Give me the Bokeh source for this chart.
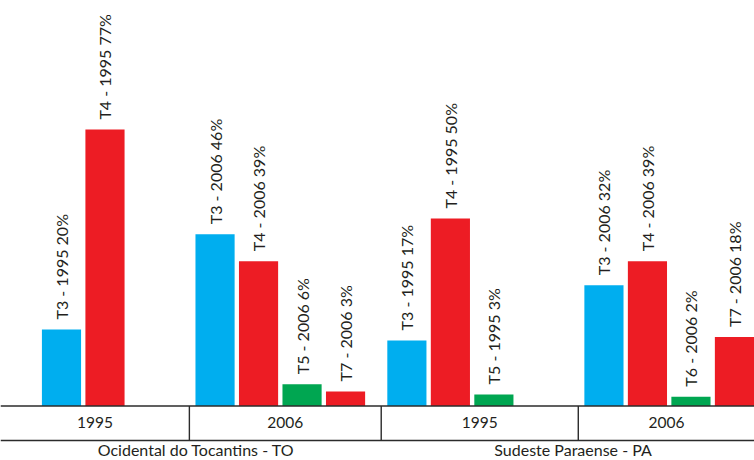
import math
from bokeh.plotting import figure
from bokeh.models import Range1d, Span, ColumnDataSource
from bokeh.core.properties import value
from bokeh.embed import file_html
from bokeh.resources import INLINE

# ---- data ----
region = ["Ocidental do Tocantins - TO"] * 6 + ["Sudeste Paraense - PA"] * 7
year = ["1995", "1995", "2006", "2006", "2006", "2006",
        "1995", "1995", "1995", "2006", "2006", "2006", "2006"]
typology = ["T3", "T4", "T3", "T4", "T5", "T7",
            "T3", "T4", "T5", "T3", "T4", "T6", "T7"]
pct_labels = [20, 77, 46, 39, 6, 3, 17, 50, 3, 32, 39, 2, 18]
# bar lengths as drawn in the picture (in % units)
bar_heights = [20.4, 73.7, 45.8, 38.6, 5.8, 3.9, 17.5, 50.0, 3.1, 32.2, 38.6, 2.5, 18.4]

type_colors = {"T3": "#00AEEF", "T4": "#ED1C24", "T5": "#00A651",
               "T6": "#00A651", "T7": "#ED1C24"}

# ---- layout (categorical-style synthetic coordinates) ----
FACTOR_PAD, SUBGROUP_PAD, GROUP_PAD = 0.0, 1.53, 0.41
xs, groups = [], []
pos, prev = 0.0, None
for r, y in zip(region, year):
    if prev is not None:
        if r != prev[0]:
            pos += GROUP_PAD
        elif y != prev[1]:
            pos += SUBGROUP_PAD
        else:
            pos += FACTOR_PAD
    if prev != (r, y):
        groups.append([r, y, pos, None])
    xs.append(pos + 0.5)
    pos += 1
    groups[-1][3] = pos
    prev = (r, y)

X0, X1 = -0.902, 16.431
Y0, Y1 = -14.53, 108.13
FONT = value("Lato")
TXT = "#231F20"
LINE = "#2b2b2b"

p = figure(width=754, height=460, x_range=Range1d(X0, X1), y_range=Range1d(Y0, Y1),
           toolbar_location=None, output_backend="svg",
           x_axis_location=None, y_axis_location=None,
           min_border=0, min_border_left=0, min_border_right=0,
           min_border_top=0, min_border_bottom=0)
p.grid.visible = False
p.outline_line_color = None
p.background_fill_color = "white"
p.border_fill_color = "white"

labels = [f"{t} - {y} {v}%" for t, y, v in zip(typology, year, pct_labels)]
src = ColumnDataSource(dict(x=xs, top=bar_heights, color=[type_colors[t] for t in typology],
                            label=labels))
p.vbar(x="x", top="top", bottom=0, width=0.9, fill_color="color", line_color=None, source=src)
p.text(x="x", y="top", text="label", source=src, angle=math.pi / 2,
       text_align="left", text_baseline="middle", y_offset=-10,
       text_font=FONT, text_font_size="16px", text_color=TXT)

# axis box
BOTTOM = -9.2
p.add_layout(Span(location=0, dimension="width", line_color=LINE, line_width=1.4))
p.add_layout(Span(location=BOTTOM, dimension="width", line_color=LINE, line_width=1.4))
seps = [g[2] - 0.09 for g in groups[1:]]
p.segment(x0=seps, y0=[0] * len(seps), x1=seps, y1=[BOTTOM] * len(seps),
          line_color=LINE, line_width=1.4)

edges = [X0] + seps + [X1]
year_x = [(edges[i] + edges[i + 1]) / 2 for i in range(len(groups))]
p.text(x=year_x, y=[-4.27] * len(groups), text=[g[1] for g in groups],
       text_align="center", text_baseline="middle",
       text_font=FONT, text_font_size="15.5px", text_color=TXT)

reg_names, reg_x = [], []
for i, g in enumerate(groups):
    if not reg_names or reg_names[-1] != g[0]:
        reg_names.append(g[0])
        reg_x.append([edges[i], edges[i + 1]])
    else:
        reg_x[-1][1] = edges[i + 1]
p.text(x=[(a + b) / 2 + 0.12 for a, b in reg_x], y=[-11.7] * len(reg_names), text=reg_names,
       text_align="center", text_baseline="middle",
       text_font=FONT, text_font_size="16px", text_color=TXT)

open("out.html", "w").write(file_html(p, INLINE))
